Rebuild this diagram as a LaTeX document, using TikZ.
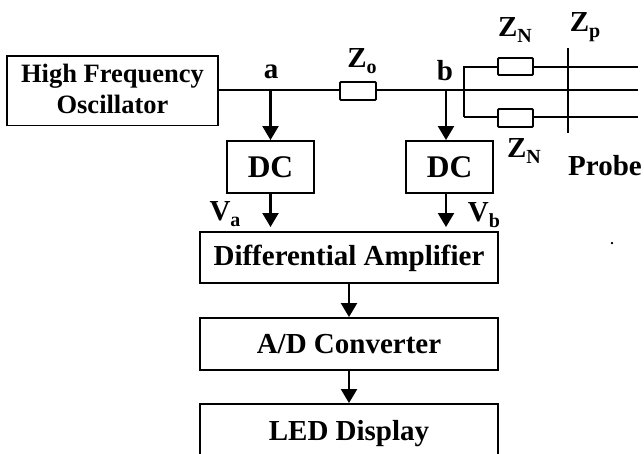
\documentclass[tikz,border=0pt]{standalone}
\usepackage{fontspec}
\setmainfont{Liberation Serif}
\usetikzlibrary{arrows.meta}
\newcommand{\fs}[1]{\fontsize{#1}{#1}\selectfont\bfseries}
\newcommand{\subl}[2]{#1\raisebox{-0.2em}{\fontsize{20}{20}\selectfont #2}}
\newcommand{\atbase}[2]{\raisebox{#1}[0pt][0pt]{#2}}
\tikzset{
  x=1pt,y=-1pt,
  blockbox/.style={draw,line width=1.9pt,inner sep=0pt,align=center,font=\fs{26.5},text=black},
  resistor/.style={draw,line width=1.9pt,rounded corners=1pt,inner sep=0pt,fill=white},
  wire/.style={line width=1.8pt},
  flow/.style={line width=2.2pt,-{Triangle[length=14pt,width=16pt]},shorten >=0pt},
  lbl/.style={inner sep=0pt,font=\fs{29}},
}
\begin{document}
\begin{tikzpicture}
\useasboundingbox (0,0) rectangle (644,453);
\clip (0,0) rectangle (644,453);
% blocks
\node[blockbox,minimum width=211pt,minimum height=69.5pt] (hfo) at (112.5,90.7) {\atbase{-22.3pt}{\makebox[0pt]{\raisebox{31pt}{High Frequency}}\makebox[0pt]{Oscillator}}};
\node[blockbox,minimum width=87pt,minimum height=52pt,font=\fs{31.5}] (dca) at (270.5,167) {DC};
\node[blockbox,minimum width=87pt,minimum height=52pt,font=\fs{31.5}] (dcb) at (449.5,167) {DC};
\node[blockbox,minimum width=298pt,minimum height=51pt,font=\fs{29}] (amp) at (349,257.5) {\atbase{-8pt}{Differential Amplifier}};
\node[blockbox,minimum width=298pt,minimum height=52pt,font=\fs{29}] (adc) at (349,344) {\atbase{-9pt}{A/D Converter}};
\node[blockbox,minimum width=298pt,minimum height=56pt,font=\fs{29}] (led) at (349,432) {\atbase{-8pt}{LED Display}};
% resistors
\node[resistor,minimum width=36pt,minimum height=18pt] (zo) at (358,91) {};
\node[resistor,minimum width=35pt,minimum height=17pt] (zn1) at (515.5,66.5) {};
\node[resistor,minimum width=35pt,minimum height=18pt] (zn2) at (515.5,118) {};
% junctions and free ends
\coordinate (ja) at (270.5,90);
\coordinate (jb) at (446,90);
\coordinate (forkt) at (463,67);
\coordinate (forktv) at (464,67);
\coordinate (forkb) at (464,117);
\coordinate (pt) at (568,48);
\coordinate (pb) at (568,133);
\coordinate (p1) at (568,67);
\coordinate (p3) at (568,117);
\coordinate (e1) at (638,67);
\coordinate (e2) at (638,90);
\coordinate (e3) at (638,117);
\coordinate (vaend) at (270.5,227);
\coordinate (vbend) at (446,227);
% wires
\draw[wire] (hfo.east |- ja) -- (zo.west |- ja);
\draw[wire] (zo.east |- ja) -- (e2);
\draw[wire] (forkt) -- (zn1.west |- forkt);
\draw[wire] (zn1.east |- p1) -- (e1);
\draw[wire] (forktv) -- (forkb);
\draw[wire] (forkb) -- (zn2.west |- forkb);
\draw[wire] (zn2.east |- p3) -- (e3);
\draw[wire] (pt) -- (pb);
% arrows
\draw[flow] (ja) -- (dca.north);
\draw[flow] (jb) -- (jb |- dcb.north);
\draw[flow] (dca.south) -- (vaend);
\draw[flow] (jb |- dcb.south) -- (vbend);
\draw[flow] (amp.south) -- (adc.north);
\draw[flow] (adc.south) -- (led.north);
% labels
\node[lbl] (la) at (271,72) {a};
\node[lbl] (lb) at (445,71) {b};
\node[lbl] (lzo) at (362,61) {\subl{Z}{o}};
\node[lbl] (lzn1) at (515,30) {\subl{Z}{N}};
\node[lbl] (lzp) at (585,27) {\subl{Z}{p}};
\node[lbl] (lzn2) at (524,151) {\subl{Z}{N}};
\node[lbl] (lprobe) at (605,166) {Probe};
\node[lbl] (lva) at (225,214) {\subl{V}{a}};
\node[lbl] (lvb) at (484,215) {\subl{V}{b}};
\node[inner sep=0pt,font=\fs{14}] (dot) at (612,244) {.};
\end{tikzpicture}
\end{document}
